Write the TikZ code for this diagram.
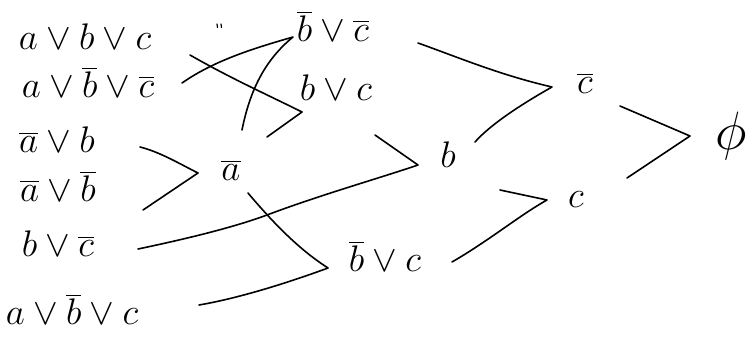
\RequirePackage{fix-cm}
\documentclass[tikz,border=0pt]{standalone}
\usepackage{amsmath}
\begin{document}
\begin{tikzpicture}[x=1pt,y=-1pt,
  lbl/.style={inner sep=0pt,font=\fontsize{37}{42}\selectfont},
  arm/.style={line width=1.6pt,line cap=round,line join=round}]
\useasboundingbox (0,0) rectangle (755,338);

% input clauses
\node[lbl] (n1) at (85,37)  {$a\vee b\vee c$};
\node[lbl] (n2) at (88,82)  {$a\vee \overline{b}\vee \overline{c}$};
\node[lbl] (n3) at (57,140) {$\overline{a}\vee b$};
\node[lbl] (n4) at (58,186) {$\overline{a}\vee \overline{b}$};
\node[lbl] (n5) at (58,244) {$b\vee \overline{c}$};
\node[lbl] (n6) at (72,309) {$a\vee \overline{b}\vee c$};

% resolvents
\node[lbl] (r1) at (333,26)  {$\overline{b}\vee \overline{c}$};
\node[lbl] (r2) at (336,88)  {$b\vee c$};
\node[lbl] (r3) at (231,170) {$\overline{a}$};
\node[lbl] (r4) at (448,155) {$b$};
\node[lbl] (r5) at (385,256) {$\overline{b}\vee c$};
\node[lbl] (r6) at (585,83)  {$\overline{c}$};
\node[lbl] (r7) at (576,200) {$c$};
\node[lbl,font=\fontsize{54}{60}\selectfont] (r8) at (731,136) {$\phi$};

% arm ends and meeting points
\coordinate (a3) at (140,147); \coordinate (a4) at (143,210); \coordinate (v3) at (198,173);
\coordinate (a2) at (182,83);  \coordinate (b3) at (242,130); \coordinate (v1) at (293,37);
\coordinate (a1) at (190,55);  \coordinate (c3) at (267,137); \coordinate (v2) at (302,112);
\coordinate (a5) at (138,249); \coordinate (b2) at (375,135); \coordinate (v4) at (418,165);
\coordinate (d3) at (248,193); \coordinate (a6) at (199,305); \coordinate (v5) at (328,268);
\coordinate (b1) at (418,43);  \coordinate (b4) at (475,142); \coordinate (v6) at (552,87);
\coordinate (c4) at (500,190); \coordinate (b5) at (452,262); \coordinate (v7) at (547,200);
\coordinate (b6) at (620,106); \coordinate (b7) at (627,178); \coordinate (v8) at (690,136);

% resolution steps
\draw[arm] (a3) .. controls (160,152) and (180,164) .. (v3) -- (a4);
\draw[arm] (a2) .. controls (215,60) and (255,48) .. (v1)
           .. controls (265,60) and (250,90) .. (b3);
\draw[arm] (a1) .. controls (230,78) and (270,96) .. (v2) -- (c3);
\draw[arm] (a5) .. controls (200,236) and (240,225) .. (267,215)
           .. controls (320,195) and (380,178) .. (v4) -- (b2);
\draw[arm] (d3) .. controls (275,225) and (300,250) .. (v5)
           .. controls (290,282) and (240,298) .. (a6);
\draw[arm] (b1) .. controls (460,58) and (500,75) .. (v6)
           .. controls (520,105) and (490,125) .. (b4);
\draw[arm] (c4) -- (v7) .. controls (520,215) and (490,240) .. (b5);
\draw[arm] (b6) -- (v8) -- (b7);

% stray pen marks
\draw[line width=1.2pt,line cap=round] (217,24) -- (217.5,27.5);
\draw[line width=1.2pt,line cap=round] (221,24) -- (221.5,27.5);
\end{tikzpicture}
\end{document}
